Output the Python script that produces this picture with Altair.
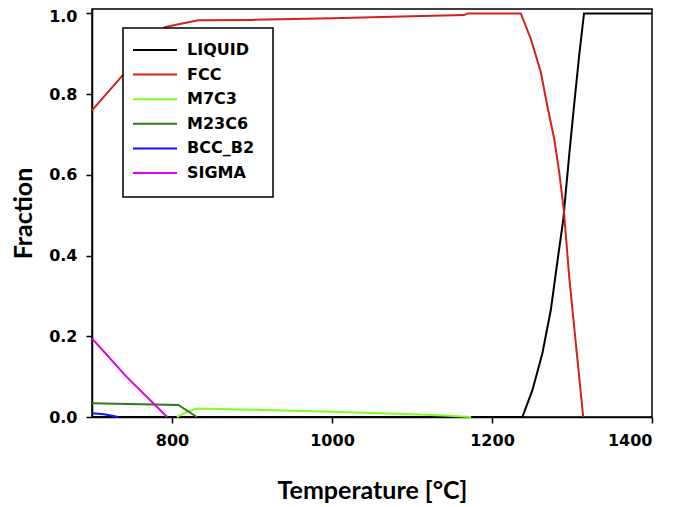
import altair as alt
import pandas as pd

# ---- data ----
series_names = ["LIQUID", "FCC", "M7C3", "M23C6", "BCC_B2", "SIGMA"]
series_colors = ["#000000", "#d42020", "#80ff20", "#2f7a1c", "#1010ff", "#e000e8"]

liquid_T = [700, 1238, 1250.6, 1263, 1273.5, 1282, 1289, 1296.5, 1302.6, 1309, 1315, 1400]
liquid_f = [0.0, 0.0, 0.067, 0.158, 0.265, 0.389, 0.488, 0.649, 0.772, 0.896, 1.0, 1.0]

fcc_T = [700, 791, 805, 833, 900, 1000, 1100, 1165, 1170, 1236, 1248.5, 1261, 1269, 1277.7, 1284, 1290, 1296.5, 1304.8, 1314]
fcc_f = [0.760, 0.966, 0.972, 0.983, 0.984, 0.988, 0.993, 0.996, 1.0, 1.0, 0.937, 0.855, 0.772, 0.690, 0.607, 0.508, 0.347, 0.182, 0.0]

m7c3_T = [806, 818, 831, 900, 1000, 1100, 1146, 1174]
m7c3_f = [0.0, 0.012, 0.021, 0.018, 0.013, 0.007, 0.003, 0.0]

m23c6_T = [700, 808, 831]
m23c6_f = [0.034, 0.030, 0.0]

bcc_T = [700, 715, 733]
bcc_f = [0.009, 0.007, 0.0]

sigma_T = [700, 743, 794]
sigma_f = [0.195, 0.100, 0.0]

x_ticks = [800, 1000, 1200, 1400]
y_ticks = [0.0, 0.2, 0.4, 0.6, 0.8, 1.0]

# ---- build table ----
rows = []
for name, Ts, fs in [
    ("LIQUID", liquid_T, liquid_f),
    ("FCC", fcc_T, fcc_f),
    ("M7C3", m7c3_T, m7c3_f),
    ("M23C6", m23c6_T, m23c6_f),
    ("BCC_B2", bcc_T, bcc_f),
    ("SIGMA", sigma_T, sigma_f),
]:
    for i, (t, f) in enumerate(zip(Ts, fs)):
        rows.append({"series": name, "T": t, "f": f, "i": i})
df = pd.DataFrame(rows)

color_scale = alt.Scale(domain=series_names, range=series_colors)

lines = alt.Chart(df).mark_line(strokeWidth=2).encode(
    x=alt.X("T:Q", scale=alt.Scale(domain=[700, 1400], nice=False, zero=False),
            axis=alt.Axis(values=x_ticks, format="d", title="Temperature [°C]", titlePadding=30)),
    y=alt.Y("f:Q", scale=alt.Scale(domain=[0, 1.011], nice=False),
            axis=alt.Axis(values=y_ticks, format=".1f", title="Fraction", titlePadding=12,
                          labelOffset={"expr": "datum.value >= 0.99 ? 3 : 0"})),
    color=alt.Color("series:N", scale=color_scale, legend=None),
    order="i:Q",
)

# ---- custom legend (pixel positions inside plot area) ----
leg_df = pd.DataFrame({"series": series_names, "k": list(range(len(series_names)))})
leg_base = alt.Chart(leg_df).transform_calculate(py="41 + 24.6 * datum.k")

box = alt.Chart(pd.DataFrame({"a": [0]})).mark_rect(
    fill="white", stroke="black", strokeWidth=1.5
).encode(x=alt.value(31), x2=alt.value(181), y=alt.value(19), y2=alt.value(188))

leg_lines = leg_base.mark_rule(strokeWidth=2).encode(
    x=alt.value(41), x2=alt.value(85),
    y=alt.Y("py:Q", scale=None, axis=None),
    color=alt.Color("series:N", scale=color_scale, legend=None),
)
leg_text = leg_base.mark_text(
    align="left", baseline="middle", font="DejaVu Sans", fontWeight="bold",
    fontSize=16, color="black"
).encode(
    x=alt.value(95),
    y=alt.Y("py:Q", scale=None, axis=None),
    text="series:N",
)

chart = alt.layer(lines, box, leg_lines, leg_text).resolve_scale(
    y="independent"
).properties(
    width=560, height=408,
    autosize=alt.AutoSizeParams(type="none"),
    padding={"left": 84, "top": 1, "right": 24, "bottom": 89},
).configure_view(
    stroke="black", strokeWidth=1.5
).configure_axis(
    grid=False, domainColor="black", domainWidth=1.5, tickColor="black",
    tickWidth=1.5, tickSize=6, labelFont="DejaVu Sans", labelFontWeight="bold",
    labelFontSize=16, labelColor="black", labelPadding=9,
    titleFont="Lato", titleFontWeight="bold", titleFontSize=25, titleColor="black",
)

chart.save("out.html", embed_options={"renderer": "svg", "actions": False})
